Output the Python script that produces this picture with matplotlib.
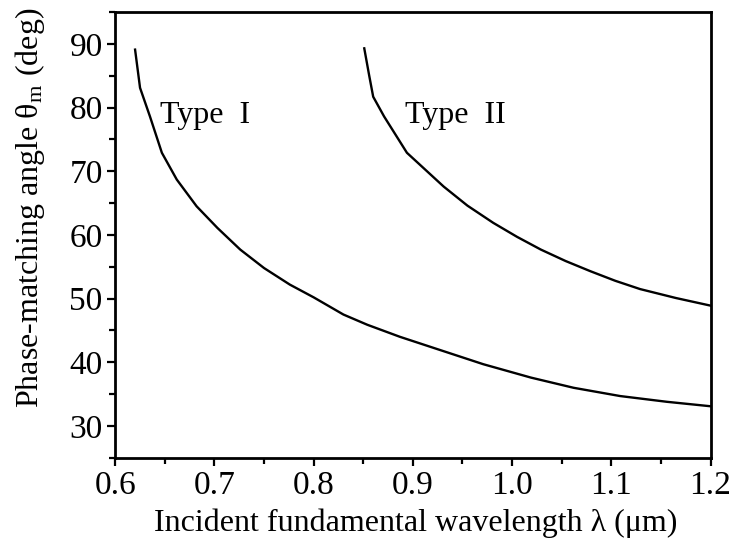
import matplotlib
matplotlib.use('Agg')
import matplotlib.pyplot as plt
from matplotlib.ticker import MultipleLocator, FormatStrFormatter

# Type I curve (wavelength in um, angle in deg)
lam_type1 = [0.620, 0.625, 0.635, 0.647, 0.662, 0.682, 0.703, 0.726, 0.750, 0.776,
             0.800, 0.830, 0.854, 0.887, 0.928, 0.971, 1.019, 1.062, 1.109, 1.156, 1.200]
theta_type1 = [89.1, 83.1, 78.6, 72.9, 68.7, 64.5, 61.1, 57.7, 54.8, 52.2,
               50.2, 47.5, 45.9, 44.0, 41.9, 39.7, 37.6, 36.0, 34.7, 33.8, 33.1]

# Type II curve
lam_type2 = [0.851, 0.856, 0.860, 0.871, 0.894, 0.931, 0.955, 0.981, 1.005, 1.029,
             1.054, 1.079, 1.104, 1.129, 1.165, 1.200]
theta_type2 = [89.3, 85.0, 81.7, 78.6, 72.9, 67.6, 64.6, 61.9, 59.7, 57.7,
               55.9, 54.3, 52.8, 51.5, 50.1, 48.9]

plt.rcParams['font.family'] = ['Liberation Serif', 'DejaVu Serif']
plt.rcParams['mathtext.fontset'] = 'stix'

fig = plt.figure(figsize=(7.34, 5.47), dpi=100)
ax = fig.add_axes([0.157, 0.163, 0.811, 0.815])

ax.plot(lam_type1, theta_type1, color='black', linewidth=1.7)
ax.plot(lam_type2, theta_type2, color='black', linewidth=1.7)

ax.text(0.645, 77.6, 'Type  I', fontsize=23, va='baseline', ha='left')
ax.text(0.892, 77.6, 'Type  II', fontsize=23, va='baseline', ha='left')

ax.set_xlim(0.6, 1.2)
ax.set_ylim(25, 95)
ax.xaxis.set_major_locator(MultipleLocator(0.1))
ax.xaxis.set_minor_locator(MultipleLocator(0.05))
ax.xaxis.set_major_formatter(FormatStrFormatter('%.1f'))
ax.yaxis.set_minor_locator(MultipleLocator(5))
ax.set_yticks([30, 40, 50, 60, 70, 80, 90])

ax.tick_params(which='major', direction='out', length=6, width=1.6, labelsize=24, pad=3)
ax.tick_params(which='minor', direction='out', length=4, width=1.6)
for sp in ax.spines.values():
    sp.set_linewidth(2)

ax.set_xlabel('Incident fundamental wavelength λ (μm)', fontsize=23, va='center')
ax.set_ylabel(r'Phase-matching angle θ$_\mathregular{m}$ (deg)', fontsize=23, va='center')
ax.xaxis.set_label_coords(0.505, -0.146)
ax.yaxis.set_label_coords(-0.143, 0.56)

plt.savefig('out.png', dpi=100)
